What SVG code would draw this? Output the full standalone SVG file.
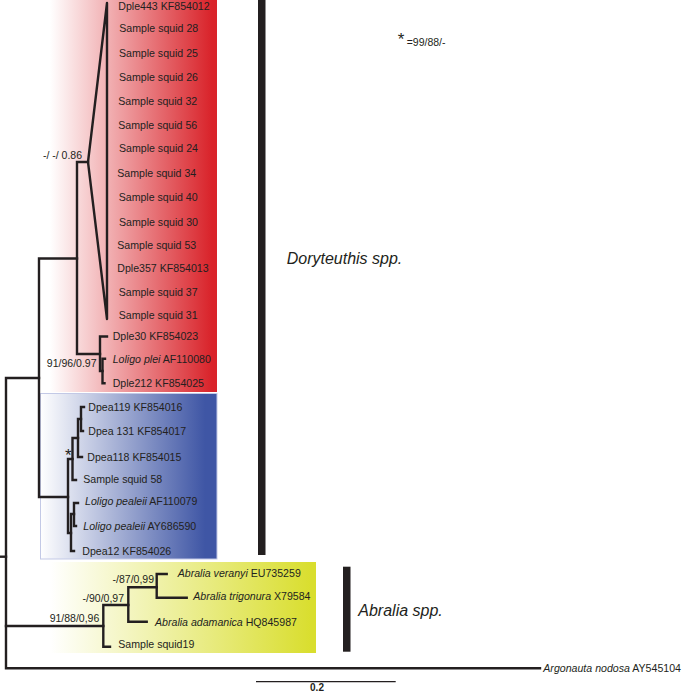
<svg xmlns="http://www.w3.org/2000/svg" width="685" height="692" viewBox="0 0 685 692">
<defs>
<linearGradient id="gRed" gradientUnits="userSpaceOnUse" x1="50" y1="0" x2="212" y2="0">
<stop offset="0" stop-color="#ffffff"/><stop offset="1" stop-color="#d9232a"/>
</linearGradient>
<linearGradient id="gBlue" gradientUnits="userSpaceOnUse" x1="40" y1="0" x2="205" y2="0">
<stop offset="0" stop-color="#ffffff"/><stop offset="1" stop-color="#3f56a5"/>
</linearGradient>
<linearGradient id="gYellow" gradientUnits="userSpaceOnUse" x1="50" y1="0" x2="312" y2="0">
<stop offset="0" stop-color="#ffffff"/><stop offset="1" stop-color="#d9de2e"/>
</linearGradient>
</defs>
<style>
text{font-family:"Liberation Sans",Arial,sans-serif;fill:#231f20}
.t{font-size:10.6px}
.s{font-size:10.5px}
.b{font-size:16px;font-style:italic}
.i{font-style:italic}
.e{text-anchor:end}
.st{font-size:17px;text-anchor:middle}
.br{stroke:#231f20;stroke-width:2.4;fill:none;stroke-linejoin:miter;stroke-linecap:square}
.tri{stroke:#231f20;stroke-width:2.4;fill:none;stroke-linejoin:round}
.bar{fill:#231f20}
</style>
<g id="boxes">
<rect id="box-red" x="40" y="0" width="177" height="392" fill="url(#gRed)"/>
<rect id="box-blue" x="40.5" y="393.5" width="176.5" height="165.5" fill="url(#gBlue)" stroke="#c3c9e6" stroke-width="1"/>
<rect id="box-yellow" x="47" y="562" width="269" height="91" fill="url(#gYellow)"/>
</g>
<g id="connectors">
<path class="br" d="M0,556.7 H6"/>
<path class="br" d="M39,378 H6 V668.3 H540"/>
<path class="br" d="M6,626 H103.3"/>
<path class="br" d="M77,258.5 H39 V497 H68"/>
<path class="br" d="M88,162 H77 V354 H100"/>
<path class="tri" d="M107,3 L88,162 L107,319 Z"/>
<path class="br" d="M107,336.5 H100 V371 H102.5"/>
<path class="br" d="M105,358.7 H102.5 V383.3 H104.5"/>
<path class="br" d="M72.5,459 H68 V533 H71"/>
<path class="br" d="M76,480 H72.5 V438 H78"/>
<path class="br" d="M82,457 H78 V419 H81"/>
<path class="br" d="M84,407 H81 V431 H83"/>
<path class="br" d="M74,514 H71 V551 H74"/>
<path class="br" d="M78,503 H74 V526 H76"/>
<path class="br" d="M110,646.7 H103.3 V605 H128.3"/>
<path class="br" d="M146.7,621.7 H128.3 V587.3 H156.7"/>
<path class="br" d="M166.7,574 H156.7 V597.7 H186.7"/>
<path d="M256,681.7 H395.7" stroke="#231f20" stroke-width="1.2"/>
</g>
<g id="leaves">
<text id="n-dple443" class="t" x="118.3" y="9.5">Dple443 KF854012</text>
<text id="n-s28" class="t" x="119.3" y="32.1">Sample squid 28</text>
<text id="n-s25" class="t" x="119" y="56.5">Sample squid 25</text>
<text id="n-s26" class="t" x="119" y="81.1">Sample squid 26</text>
<text id="n-s32" class="t" x="118.3" y="104.5">Sample squid 32</text>
<text id="n-s56" class="t" x="118.3" y="128.8">Sample squid 56</text>
<text id="n-s24" class="t" x="119" y="151.5">Sample squid 24</text>
<text id="n-s34" class="t" x="117.3" y="176.5">Sample squid 34</text>
<text id="n-s40" class="t" x="118.7" y="200.5">Sample squid 40</text>
<text id="n-s30" class="t" x="119" y="225.5">Sample squid 30</text>
<text id="n-s53" class="t" x="117.3" y="249.1">Sample squid 53</text>
<text id="n-dple357" class="t" x="117.3" y="271.8">Dple357 KF854013</text>
<text id="n-s37" class="t" x="118.7" y="295.5">Sample squid 37</text>
<text id="n-s31" class="t" x="118.7" y="319.1">Sample squid 31</text>
<text id="n-dple30" class="t" x="112.7" y="339.8">Dple30 KF854023</text>
<text id="n-lplei" class="t" x="112.7" y="362.5"><tspan class="i">Loligo plei</tspan> AF110080</text>
<text id="n-dple212" class="t" x="112.7" y="387.1">Dple212 KF854025</text>
<text id="n-dpea119" class="t" x="88.3" y="410.5">Dpea119 KF854016</text>
<text id="n-dpea131" class="t" x="88.3" y="434.5">Dpea 131 KF854017</text>
<text id="n-dpea118" class="t" x="87.3" y="461.1">Dpea118 KF854015</text>
<text id="n-s58" class="t" x="83.3" y="483.1">Sample squid 58</text>
<text id="n-lpaf" class="t" x="85" y="505.1"><tspan class="i">Loligo pealeii</tspan> AF110079</text>
<text id="n-lpay" class="t" x="83.3" y="529.5"><tspan class="i">Loligo pealeii</tspan> AY686590</text>
<text id="n-dpea12" class="t" x="82.3" y="554.5">Dpea12 KF854026</text>
<text id="n-aver" class="t" x="177.7" y="576.8"><tspan class="i">Abralia veranyi</tspan> EU735259</text>
<text id="n-atri" class="t" x="193.3" y="599.8"><tspan class="i">Abralia trigonura</tspan> X79584</text>
<text id="n-aada" class="t" x="155" y="625.8"><tspan class="i">Abralia adamanica</tspan> HQ845987</text>
<text id="n-s19" class="t" x="118.3" y="648.1">Sample squid19</text>
<text id="n-argo" class="t" x="543.3" y="672.1"><tspan class="i">Argonauta nodosa</tspan> AY545104</text>
</g>
<g id="support">
<text class="s e" x="82" y="158.8">-/ -/ 0.86</text>
<text class="s e" x="96.5" y="366.8">91/96/0.97</text>
<text class="st" x="68.3" y="461">*</text>
<text class="s e" x="99.3" y="622">91/88/0,96</text>
<text class="s e" x="124" y="602">-/90/0,97</text>
<text class="s e" x="154" y="583">-/87/0,99</text>
</g>
<g id="clade-doryteuthis">
<rect class="bar" x="258" y="0" width="7.5" height="555"/>
<text class="b" x="286.7" y="264.3">Doryteuthis  spp.</text>
</g>
<g id="clade-abralia">
<rect class="bar" x="343" y="566.7" width="7.5" height="85"/>
<text class="b" x="358.3" y="616">Abralia spp.</text>
</g>
<g id="legend">
<text class="st" x="401" y="44.5">*</text>
<text class="s" x="406.7" y="46">=99/88/-</text>
</g>
<g id="scale">
<text x="317" y="690.5" style="font-size:10px;font-weight:bold;text-anchor:middle">0.2</text>
</g>
</svg>
